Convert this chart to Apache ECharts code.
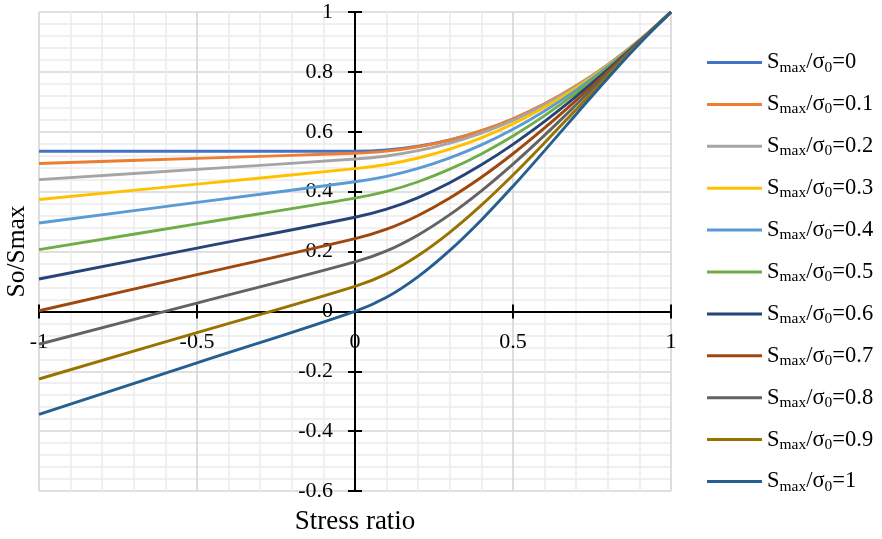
<!DOCTYPE html>
<html>
<head>
<meta charset="utf-8">
<script src="https://cdn.jsdelivr.net/npm/echarts@6/dist/echarts.min.js"></script>
<style>
html,body{margin:0;padding:0;background:#fff;}
#chart{width:882px;height:539px;}
</style>
</head>
<body>
<div id="chart"></div>
<script>
// Stress ratio (x) sample points
const ratios = [-1, -0.5, 0, 0.1, 0.2, 0.3, 0.4, 0.5, 0.6, 0.7, 0.8, 0.9, 1];
// Legend parameter values (Smax/σ0)
const params = ['0', '0.1', '0.2', '0.3', '0.4', '0.5', '0.6', '0.7', '0.8', '0.9', '1'];
// So/Smax values
const s00 = [0.535, 0.535, 0.535, 0.5390, 0.5514, 0.5724, 0.6027, 0.6425, 0.6923, 0.7526, 0.8236, 0.9060, 1];
const s01 = [0.4940, 0.5112, 0.5284, 0.5354, 0.5499, 0.5723, 0.6034, 0.6435, 0.6933, 0.7533, 0.8241, 0.9061, 1];
const s02 = [0.4400, 0.4744, 0.5088, 0.5192, 0.5367, 0.5620, 0.5956, 0.6380, 0.6897, 0.7512, 0.8231, 0.9059, 1];
const s03 = [0.3735, 0.4251, 0.4767, 0.4907, 0.5123, 0.5419, 0.5798, 0.6262, 0.6817, 0.7465, 0.8209, 0.9053, 1];
const s04 = [0.2952, 0.3640, 0.4328, 0.4508, 0.4774, 0.5126, 0.5563, 0.6086, 0.6696, 0.7392, 0.8174, 0.9044, 1];
const s05 = [0.2063, 0.2923, 0.3783, 0.4006, 0.4330, 0.4749, 0.5259, 0.5857, 0.6537, 0.7296, 0.8128, 0.9031, 1];
const s06 = [0.1081, 0.2113, 0.3145, 0.3414, 0.3802, 0.4299, 0.4895, 0.5580, 0.6345, 0.7179, 0.8073, 0.9017, 1];
const s07 = [0.0021, 0.1225, 0.2429, 0.2746, 0.3205, 0.3788, 0.4481, 0.5265, 0.6126, 0.7046, 0.8010, 0.9000, 1];
const s08 = [-0.1099, 0.0277, 0.1653, 0.2020, 0.2554, 0.3231, 0.4028, 0.4921, 0.5886, 0.6900, 0.7940, 0.8981, 1];
const s09 = [-0.2259, -0.0711, 0.0837, 0.1254, 0.1866, 0.2641, 0.3548, 0.4555, 0.5632, 0.6746, 0.7866, 0.8961, 1];
const s10 = [-0.344, -0.172, 0, 0.0469, 0.1160, 0.2036, 0.3055, 0.4180, 0.5370, 0.6587, 0.7790, 0.8941, 1];
const allSeries = [s00, s01, s02, s03, s04, s05, s06, s07, s08, s09, s10];
const colors = ['#4472C4', '#ED7D31', '#A5A5A5', '#FFC000', '#5B9BD5', '#70AD47',
                '#264478', '#9E480E', '#636363', '#997300', '#255E91'];
const xTitle = 'Stress ratio';
const yTitle = 'So/Smax';

const FONT = '"Liberation Serif", "Times New Roman", serif';

const chart = echarts.init(document.getElementById('chart'), null, {renderer: 'canvas'});

const series = allSeries.map((vals, k) => ({
  name: 'Smax/σ0=' + params[k],
  type: 'line',
  xAxisIndex: 0,
  yAxisIndex: 0,
  data: ratios.map((x, i) => [x, vals[i]]),
  symbol: 'none',
  showSymbol: false,
  smooth: 0.4,
  color: colors[k],
  lineStyle: {width: 2.9, color: colors[k]},
  emphasis: {disabled: true},
  clip: false
}));

const xBase = {type: 'value', min: -1, max: 1, interval: 0.5, position: 'bottom'};
const yBase = {type: 'value', min: -0.6, max: 1, interval: 0.2, position: 'left'};

function buildOption(xOffset, yOffset) {
  return {
    animation: false,
    backgroundColor: '#ffffff',
    grid: {left: 39, right: 211, top: 12, bottom: 48, containLabel: false, outerBoundsMode: 'none'},
    legend: {
      orient: 'vertical',
      left: 702,
      top: 46,
      itemWidth: 55,
      itemHeight: 3,
      itemGap: 17.4,
      icon: 'rect',
      selectedMode: false,
      data: series.map(s => s.name),
      formatter: function (name) {
        const v = name.split('=')[1];
        return '{s|S}{sub|max}{s|/σ}{sub|0}{s|=' + v + '}';
      },
      textStyle: {
        fontFamily: FONT,
        color: '#000',
        rich: {
          s: {fontFamily: FONT, fontSize: 22.5, lineHeight: 26, color: '#000'},
          sub: {fontFamily: FONT, fontSize: 15.5, lineHeight: 16, verticalAlign: 'bottom', color: '#000'}
        }
      }
    },
    xAxis: [
      Object.assign({}, xBase, {
        offset: xOffset,
        name: xTitle,
        nameLocation: 'middle',
        nameGap: 197,
        nameTextStyle: {fontFamily: FONT, fontSize: 27, color: '#000'},
        axisLine: {show: true, onZero: false, lineStyle: {color: '#000', width: 2}},
        axisTick: {show: true, inside: false, length: 7, lineStyle: {color: '#000', width: 2}},
        axisLabel: {show: true, margin: 20, fontFamily: FONT, fontSize: 22, color: '#000',
                    showMinLabel: true, showMaxLabel: true, hideOverlap: false},
        splitLine: {show: true, lineStyle: {color: '#d6d6d6', width: 1.6}},
        minorTick: {show: false, splitNumber: 5},
        minorSplitLine: {show: true, lineStyle: {color: '#ebebeb', width: 1.5}}
      }),
      Object.assign({}, xBase, {
        axisLine: {show: true, onZero: true, lineStyle: {color: '#000', width: 2}},
        axisTick: {show: true, inside: true, length: 7, lineStyle: {color: '#000', width: 2}},
        axisLabel: {show: false},
        splitLine: {show: false}
      })
    ],
    yAxis: [
      Object.assign({}, yBase, {
        offset: yOffset,
        name: yTitle,
        nameLocation: 'middle',
        nameRotate: 90,
        nameGap: 325,
        nameTextStyle: {fontFamily: FONT, fontSize: 25.5, color: '#000'},
        axisLine: {show: true, onZero: false, lineStyle: {color: '#000', width: 2}},
        axisTick: {show: true, inside: false, length: 7, lineStyle: {color: '#000', width: 2}},
        axisLabel: {show: true, margin: 22, fontFamily: FONT, fontSize: 22, color: '#000',
                    showMinLabel: true, showMaxLabel: true, hideOverlap: false},
        splitLine: {show: true, lineStyle: {color: '#d6d6d6', width: 1.6}},
        minorTick: {show: false, splitNumber: 5},
        minorSplitLine: {show: true, lineStyle: {color: '#ebebeb', width: 1.5}}
      }),
      Object.assign({}, yBase, {
        axisLine: {show: true, onZero: true, lineStyle: {color: '#000', width: 2}},
        axisTick: {show: true, inside: true, length: 7, lineStyle: {color: '#000', width: 2}},
        axisLabel: {show: false},
        splitLine: {show: false}
      })
    ],
    series: series
  };
}

chart.setOption(buildOption(0, 0));
// Move the labelled axes onto the zero lines using the library's own scale
const pZero = chart.convertToPixel({gridIndex: 0}, [0, 0]);
const pMin = chart.convertToPixel({gridIndex: 0}, [xBase.min, yBase.min]);
chart.setOption(buildOption(-(pMin[1] - pZero[1]), -(pZero[0] - pMin[0])));
</script>
</body>
</html>
